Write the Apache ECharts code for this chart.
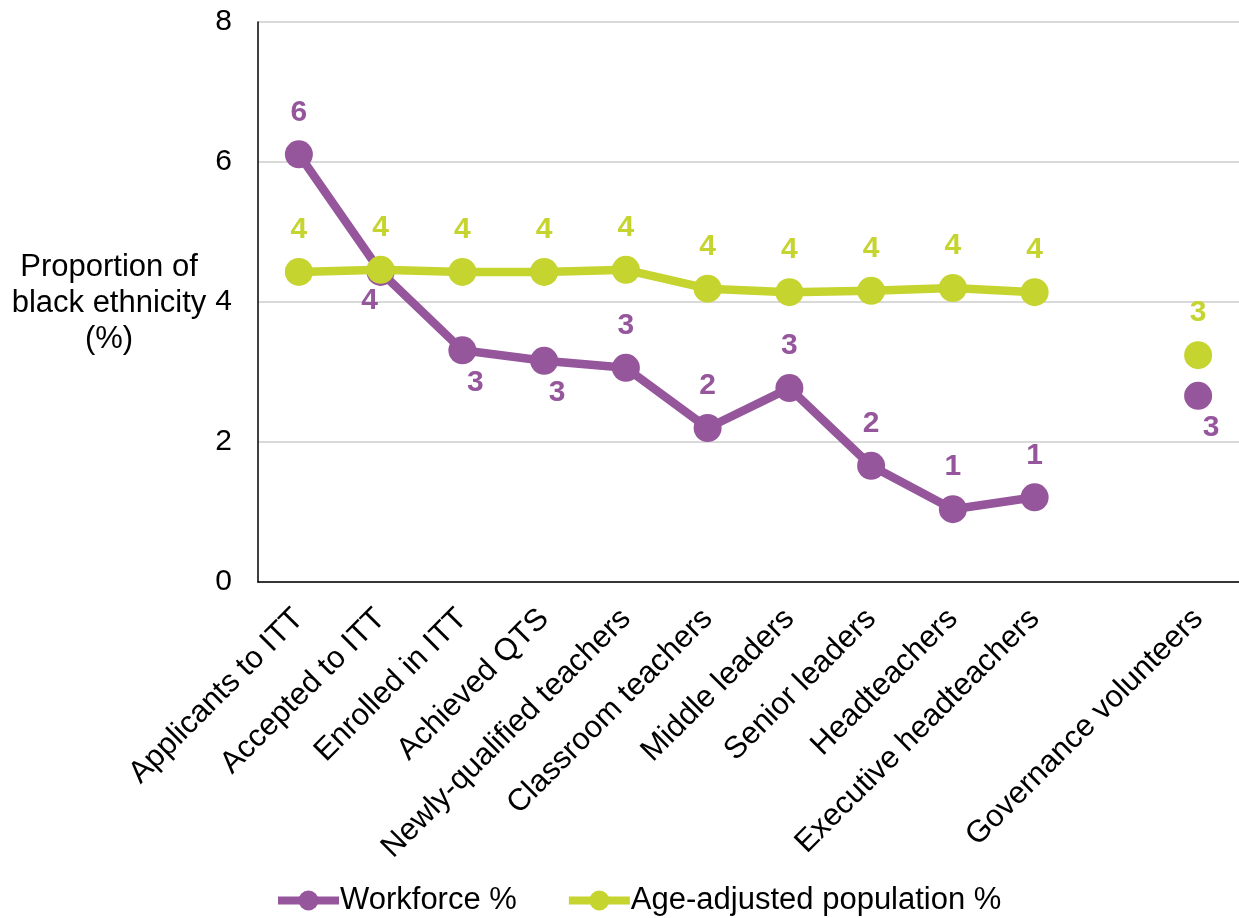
<!DOCTYPE html>
<html>
<head>
<meta charset="utf-8">
<script src="https://cdn.jsdelivr.net/npm/echarts@6/dist/echarts.min.js"></script>
<style>
  html, body { margin: 0; padding: 0; background: #fff; }
  #chart { width: 1239px; height: 918px; }
</style>
</head>
<body>
<div id="chart"></div>
<script>
// Stages of the school workforce pipeline; the blank slot separates governance volunteers
var categories = [
  'Applicants to ITT', 'Accepted to ITT', 'Enrolled in ITT', 'Achieved QTS',
  'Newly-qualified teachers', 'Classroom teachers', 'Middle leaders',
  'Senior leaders', 'Headteachers', 'Executive headteachers', '',
  'Governance volunteers'
];

// Share of people of black ethnicity at each stage (%)
var workforce = [6.11, 4.43, 3.31, 3.16, 3.06, 2.20, 2.77, 1.66, 1.04, 1.21, null, 2.66];
var ageAdjusted = [4.43, 4.46, 4.43, 4.43, 4.46, 4.19, 4.14, 4.16, 4.20, 4.14, null, 3.24];

var yTicks = [0, 2, 4, 6, 8];

var PURPLE = '#95569c';
var GREEN = '#c5d42f';
var FONT = '"Liberation Sans", Arial, sans-serif';

// Workforce labels sit above the markers except where the lines cross or crowd
var belowRight = { 2: true, 3: true, 11: true };
var belowLeft = { 1: true };

function roundLabel(p) {
  return p.value == null ? '' : String(Math.round(p.value));
}

var workforceData = workforce.map(function (v, i) {
  var item = { value: v };
  if (belowRight[i]) {
    item.label = { position: 'bottom', distance: 3, offset: [13, 0] };
  } else if (belowLeft[i]) {
    item.label = { position: 'bottom', distance: 0, offset: [-11, 0] };
  }
  return item;
});

var chart = echarts.init(document.getElementById('chart'), null, { renderer: 'canvas' });

chart.setOption({
  animation: false,
  backgroundColor: '#ffffff',
  grid: { left: 258, right: 0, top: 22, bottom: 336 },
  graphic: [{
    type: 'text',
    x: 109,
    y: 249,
    style: {
      text: 'Proportion of\nblack ethnicity\n(%)',
      font: '31px ' + FONT,
      fill: '#000',
      textAlign: 'center',
      textVerticalAlign: 'top',
      lineHeight: 36
    }
  }],
  legend: {
    top: 880,
    left: 269,
    itemWidth: 61,
    itemHeight: 25,
    itemGap: 48,
    lineStyle: { width: 8 },
    textStyle: { fontFamily: FONT, fontSize: 31, color: '#000', padding: [0, 0, 0, -4] },
    data: ['Workforce %', 'Age-adjusted population %']
  },
  xAxis: {
    type: 'category',
    data: categories,
    boundaryGap: true,
    axisLine: { lineStyle: { color: '#000', width: 1.5 } },
    axisTick: { show: false },
    axisLabel: {
      interval: 0,
      rotate: 45,
      margin: 32,
      fontFamily: FONT,
      fontSize: 31,
      color: '#000'
    },
    splitLine: { show: false }
  },
  yAxis: {
    type: 'value',
    min: yTicks[0],
    max: yTicks[yTicks.length - 1],
    interval: 2,
    axisLine: { show: true, lineStyle: { color: '#000', width: 1.5 } },
    axisTick: { show: false },
    axisLabel: {
      margin: 26,
      fontFamily: FONT,
      fontSize: 30,
      color: '#000'
    },
    splitLine: { lineStyle: { color: '#d9d9d9', width: 2 } }
  },
  series: [
    {
      name: 'Workforce %',
      type: 'line',
      data: workforceData,
      connectNulls: false,
      symbol: 'circle',
      symbolSize: 28,
      z: 2,
      lineStyle: { color: PURPLE, width: 8.5 },
      itemStyle: { color: PURPLE },
      label: {
        show: true,
        position: 'top',
        distance: 13,
        formatter: roundLabel,
        fontFamily: FONT,
        fontSize: 30,
        fontWeight: 'bold',
        color: PURPLE
      }
    },
    {
      name: 'Age-adjusted population %',
      type: 'line',
      data: ageAdjusted,
      connectNulls: false,
      symbol: 'circle',
      symbolSize: 28,
      z: 3,
      lineStyle: { color: GREEN, width: 8.5 },
      itemStyle: { color: GREEN },
      label: {
        show: true,
        position: 'top',
        distance: 13,
        formatter: roundLabel,
        fontFamily: FONT,
        fontSize: 30,
        fontWeight: 'bold',
        color: GREEN
      }
    }
  ]
});
</script>
</body>
</html>
